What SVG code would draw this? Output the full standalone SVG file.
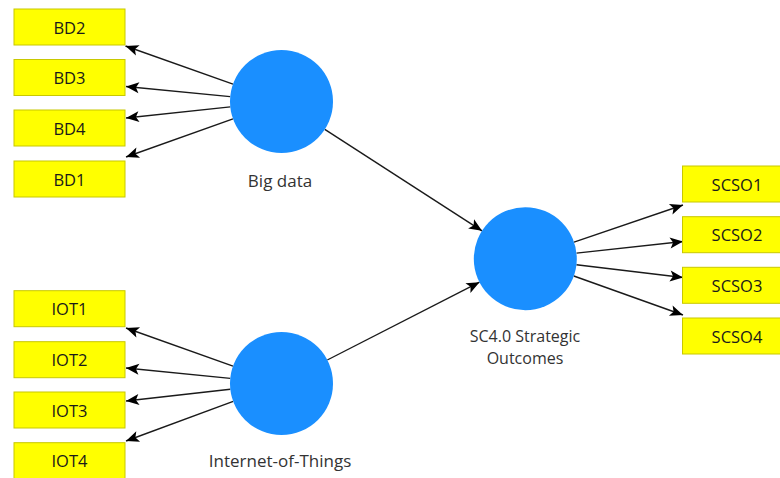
<svg xmlns="http://www.w3.org/2000/svg" width="780" height="478" viewBox="0 0 780 478">
<style>
.box{fill:#ffff00;stroke:#c8c800;stroke-width:1}
.bt{font-family:"Open Sans","Noto Sans",sans-serif;font-size:16.5px;fill:#1a1a1a;text-anchor:middle}
.lv{fill:#1a8fff}
.lt{font-family:"Open Sans","Noto Sans",sans-serif;font-size:17px;fill:#333333;text-anchor:middle}
.lt2{font-size:16px}
.c{stroke:#1a1a1a;stroke-width:1.4;fill:none;marker-end:url(#ah)}
</style>
<defs>
<marker id="ah" viewBox="-14 -7 15 14" refX="0" refY="0" markerWidth="15" markerHeight="14" markerUnits="userSpaceOnUse" orient="auto">
<path d="M0,0 L-13,-5.5 L-10,0 L-13,5.5 Z" fill="#000"/>
</marker>
</defs>
<rect width="780" height="478" fill="#ffffff"/>
<g id="connectors">
<line class="c" x1="233.0" y1="84.2" x2="125.5" y2="46"/>
<line class="c" x1="230.2" y1="96.6" x2="126" y2="86.5"/>
<line class="c" x1="230.3" y1="106.9" x2="126" y2="118"/>
<line class="c" x1="233.0" y1="118.8" x2="126" y2="157"/>
<line class="c" x1="233.0" y1="366.2" x2="126" y2="328"/>
<line class="c" x1="230.3" y1="378.4" x2="126" y2="368"/>
<line class="c" x1="230.3" y1="389.3" x2="126" y2="401"/>
<line class="c" x1="233.2" y1="401.4" x2="126" y2="441"/>
<line class="c" x1="324.8" y1="129.4" x2="482.0" y2="230.8"/>
<line class="c" x1="327.3" y1="360.0" x2="479.5" y2="282.2"/>
<line class="c" x1="574.0" y1="242.1" x2="683" y2="205"/>
<line class="c" x1="576.5" y1="253.1" x2="683" y2="241.5"/>
<line class="c" x1="576.4" y1="264.8" x2="683" y2="277.5"/>
<line class="c" x1="573.8" y1="276.0" x2="683" y2="315"/>
</g>
<g id="BD2"><rect class="box" x="14" y="9" width="111" height="36"/><text class="bt" x="69.5" y="33.5">BD2</text></g>
<g id="BD3"><rect class="box" x="14" y="59.5" width="111" height="36"/><text class="bt" x="69.5" y="84">BD3</text></g>
<g id="BD4"><rect class="box" x="14" y="110" width="111" height="36"/><text class="bt" x="69.5" y="134.5">BD4</text></g>
<g id="BD1"><rect class="box" x="14" y="161" width="111" height="36"/><text class="bt" x="69.5" y="185.5">BD1</text></g>
<g id="IOT1"><rect class="box" x="14" y="290.7" width="111" height="36"/><text class="bt" x="69.5" y="315.2">IOT1</text></g>
<g id="IOT2"><rect class="box" x="14" y="341.7" width="111" height="36"/><text class="bt" x="69.5" y="366.2">IOT2</text></g>
<g id="IOT3"><rect class="box" x="14" y="392" width="111" height="36"/><text class="bt" x="69.5" y="416.5">IOT3</text></g>
<g id="IOT4"><rect class="box" x="14" y="442.7" width="111" height="36"/><text class="bt" x="69.5" y="467.2">IOT4</text></g>
<g id="SCSO1"><rect class="box" x="682.5" y="166" width="111" height="36"/><text class="bt" x="737" y="190.5">SCSO1</text></g>
<g id="SCSO2"><rect class="box" x="682.5" y="216.7" width="111" height="36"/><text class="bt" x="737" y="241.2">SCSO2</text></g>
<g id="SCSO3"><rect class="box" x="682.5" y="267.3" width="111" height="36"/><text class="bt" x="737" y="291.8">SCSO3</text></g>
<g id="SCSO4"><rect class="box" x="682.5" y="318" width="111" height="36"/><text class="bt" x="737" y="342.5">SCSO4</text></g>
<g id="BigData"><circle class="lv" cx="281.5" cy="101.5" r="51.5"/><text class="lt" x="280" y="186.5">Big data</text></g>
<g id="IoT"><circle class="lv" cx="281.5" cy="383.5" r="51.5"/><text class="lt" x="280" y="466.5">Internet-of-Things</text></g>
<g id="SC40"><circle class="lv" cx="525.3" cy="258.7" r="51.5"/><text class="lt lt2" x="525" y="341.5">SC4.0 Strategic</text><text class="lt lt2" x="525" y="363.5">Outcomes</text></g>
</svg>
